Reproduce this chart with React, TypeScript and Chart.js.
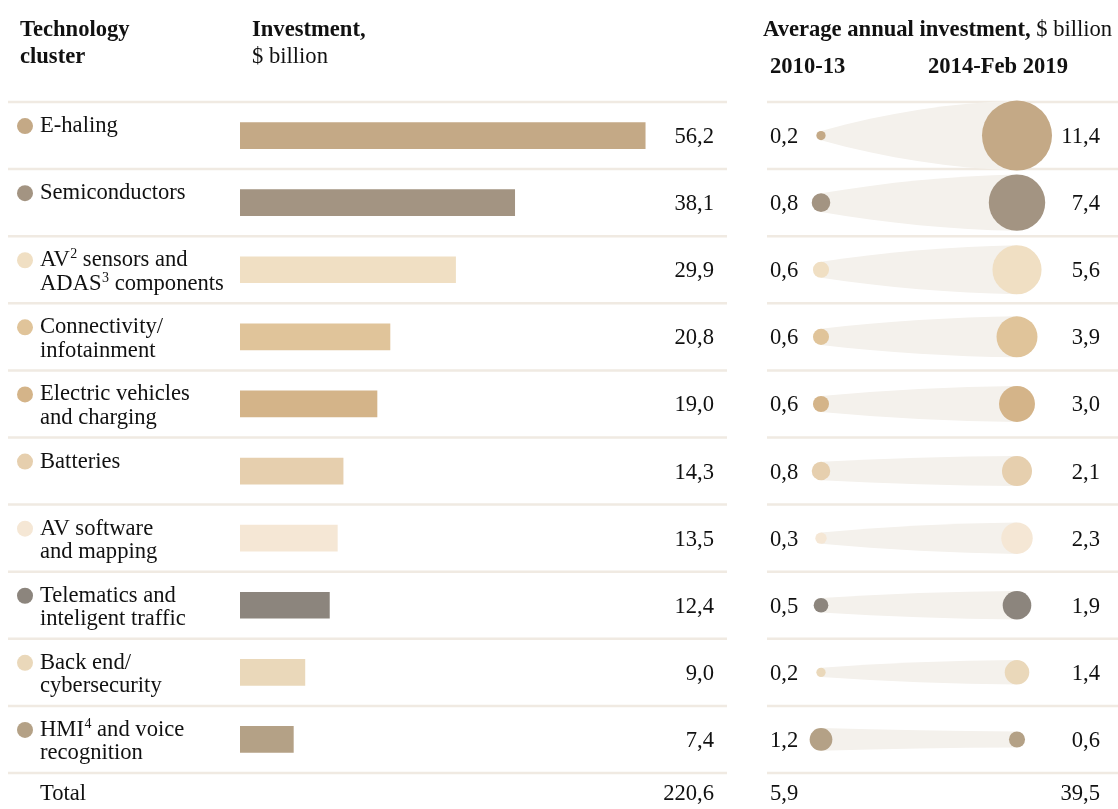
import React, { useEffect, useRef } from "react";
import { Chart, registerables } from "chart.js";

Chart.register(...registerables);

// ---------- data ----------
const categoryLines: string[][] = [
  ["E-haling"],
  ["Semiconductors"],
  ["AV{2} sensors and", "ADAS{3} components"],
  ["Connectivity/", "infotainment"],
  ["Electric vehicles", "and charging"],
  ["Batteries"],
  ["AV software", "and mapping"],
  ["Telematics and", "inteligent traffic"],
  ["Back end/", "cybersecurity"],
  ["HMI{4} and voice", "recognition"],
];
const investment = [56.2, 38.1, 29.9, 20.8, 19.0, 14.3, 13.5, 12.4, 9.0, 7.4];
const avg2010 = [0.2, 0.8, 0.6, 0.6, 0.6, 0.8, 0.3, 0.5, 0.2, 1.2];
const avg2014 = [11.4, 7.4, 5.6, 3.9, 3.0, 2.1, 2.3, 1.9, 1.4, 0.6];
const totalInvestment = 220.6;
const total2010 = 5.9;
const total2014 = 39.5;
const periodLabels = ["2010-13", "2014-Feb 2019"];
const colors = [
  "#c4a986",
  "#a39482",
  "#f0dfc3",
  "#e0c49a",
  "#d4b489",
  "#e6cfae",
  "#f5e7d5",
  "#8c857d",
  "#ead8ba",
  "#b4a186",
];

// ---------- layout ----------
const W = 1118;
const H = 809;
const FONT = '"Liberation Serif", "Times New Roman", serif';
const FS = 22.6;
const BUBBLE_K = 10.37; // px radius per sqrt(billion)
const DIVIDER = "#f0eae2";
const CONE = "#f4f1ec";

const fmt = (v: number) => v.toFixed(1).replace(".", ",");

function drawRich(ctx: CanvasRenderingContext2D, text: string, x: number, y: number, size: number, weight = "normal") {
  const parts = text.split(/(\{[^}]*\})/).filter((p) => p.length);
  let cx = x;
  ctx.textAlign = "left";
  ctx.textBaseline = "alphabetic";
  for (const p of parts) {
    if (p.startsWith("{")) {
      const t = p.slice(1, -1);
      ctx.font = `${weight} ${Math.round(size * 0.6)}px ${FONT}`;
      ctx.fillText(t, cx + 0.5, y - size * 0.36);
      cx += ctx.measureText(t).width + 0.5;
    } else {
      ctx.font = `${weight} ${size}px ${FONT}`;
      ctx.fillText(p, cx, y);
      cx += ctx.measureText(p).width;
    }
  }
  return cx;
}

const leftPlugin = {
  id: "leftText",
  beforeDraw(chart: any) {
    const { ctx, chartArea } = chart;
    const n = investment.length;
    const rowH = (chartArea.bottom - chartArea.top) / n;
    ctx.save();
    ctx.strokeStyle = DIVIDER;
    ctx.lineWidth = 2.5;
    for (let i = 0; i <= n; i++) {
      const y = chartArea.top + i * rowH;
      ctx.beginPath();
      ctx.moveTo(8, y);
      ctx.lineTo(727, y);
      ctx.moveTo(767, y);
      ctx.lineTo(W, y);
      ctx.stroke();
    }
    ctx.restore();
  },
  afterDraw(chart: any) {
    const { ctx, chartArea } = chart;
    const yScale = chart.scales.y;
    ctx.save();
    ctx.fillStyle = "#111";
    // headers
    drawRich(ctx, "Technology", 20, 36, FS, "bold");
    drawRich(ctx, "cluster", 20, 63, FS, "bold");
    drawRich(ctx, "Investment,", 252, 36, FS, "bold");
    drawRich(ctx, "$ billion", 252, 63, FS);
    const ex = drawRich(ctx, "Average annual investment,", 763, 36, FS, "bold");
    drawRich(ctx, " $ billion", ex, 36, FS);
    drawRich(ctx, periodLabels[0], 770, 73, FS, "bold");
    drawRich(ctx, periodLabels[1], 928, 73, FS, "bold");

    categoryLines.forEach((lines, i) => {
      const yc = yScale.getPixelForValue(i);
      ctx.fillStyle = colors[i];
      ctx.beginPath();
      ctx.arc(25, yc - 9.5, 8, 0, Math.PI * 2);
      ctx.fill();
      ctx.fillStyle = "#111";
      lines.forEach((ln, j) => drawRich(ctx, ln, 40, yc - 3.5 + j * 23.5, FS));
      ctx.font = `${FS}px ${FONT}`;
      ctx.textAlign = "right";
      ctx.fillText(fmt(investment[i]), 714, yc + 7.5);
    });
    const ty = chartArea.bottom + 27;
    drawRich(ctx, "Total", 40, ty, FS);
    ctx.font = `${FS}px ${FONT}`;
    ctx.textAlign = "right";
    ctx.fillText(fmt(totalInvestment), 714, ty);
    ctx.restore();
  },
};

const rightPlugin = {
  id: "cones",
  beforeDatasetsDraw(chart: any) {
    const { ctx } = chart;
    const m0 = chart.getDatasetMeta(0).data;
    const m1 = chart.getDatasetMeta(1).data;
    ctx.save();
    ctx.fillStyle = CONE;
    for (let i = 0; i < m0.length; i++) {
      const a = m0[i];
      const b = m1[i];
      const rL = chart.data.datasets[0].data[i].r;
      const rR = chart.data.datasets[1].data[i].r;
      const xL = a.x;
      const xR = b.x;
      const yc = a.y;
      const d = xR - xL;
      const dr = rR - rL;
      const h1 = rL + dr * 0.6;
      const h2 = rL + dr * 0.92;
      ctx.beginPath();
      ctx.moveTo(xL, yc - rL);
      ctx.bezierCurveTo(xL + d / 3, yc - h1, xL + (2 * d) / 3, yc - h2, xR, yc - rR);
      ctx.lineTo(xR, yc + rR);
      ctx.bezierCurveTo(xL + (2 * d) / 3, yc + h2, xL + d / 3, yc + h1, xL, yc + rL);
      ctx.closePath();
      ctx.fill();
    }
    ctx.restore();
  },
  afterDraw(chart: any) {
    const { ctx, chartArea } = chart;
    const yScale = chart.scales.y;
    ctx.save();
    ctx.fillStyle = "#111";
    ctx.font = `${FS}px ${FONT}`;
    for (let i = 0; i < avg2010.length; i++) {
      const yc = yScale.getPixelForValue(i);
      ctx.textAlign = "left";
      ctx.fillText(fmt(avg2010[i]), 770, yc + 7.5);
      ctx.textAlign = "right";
      ctx.fillText(fmt(avg2014[i]), 1100, yc + 7.5);
    }
    const ty = chartArea.bottom + 27;
    ctx.textAlign = "left";
    ctx.fillText(fmt(total2010), 770, ty);
    ctx.textAlign = "right";
    ctx.fillText(fmt(total2014), 1100, ty);
    ctx.restore();
  },
};

export default function App() {
  const barRef = useRef<HTMLCanvasElement>(null);
  const bubRef = useRef<HTMLCanvasElement>(null);

  useEffect(() => {
    const pxPerUnit = 7.21;
    const xMax = 60;
    const barLeft = 240;
    const barChart = new Chart(barRef.current!, {
      type: "bar",
      data: {
        labels: categoryLines.map((l) => l.join(" ")),
        datasets: [
          {
            data: investment,
            backgroundColor: colors,
            barThickness: 26,
            borderWidth: 0,
          },
        ],
      },
      options: {
        indexAxis: "y",
        responsive: false,
        animation: false,
        layout: {
          padding: { left: barLeft, right: W - barLeft - xMax * pxPerUnit, top: 102, bottom: 36 },
        },
        scales: {
          x: { min: 0, max: xMax, display: false },
          y: { display: false },
        },
        plugins: { legend: { display: false }, tooltip: { enabled: false } },
      },
      plugins: [leftPlugin],
    } as any);

    const R = (v: number) => BUBBLE_K * Math.sqrt(v);
    const bubChart = new Chart(bubRef.current!, {
      type: "bubble",
      data: {
        datasets: [
          {
            label: periodLabels[0],
            data: avg2010.map((v, i) => ({ x: 0, y: i, r: R(v) })),
            backgroundColor: colors,
            borderWidth: 0,
            clip: false,
          },
          {
            label: periodLabels[1],
            data: avg2014.map((v, i) => ({ x: 1, y: i, r: R(v) })),
            backgroundColor: colors,
            borderWidth: 0,
            clip: false,
          },
        ],
      },
      options: {
        responsive: false,
        animation: false,
        layout: { padding: { left: 821, right: W - 1017, top: 102, bottom: 36 } },
        scales: {
          x: { type: "linear", min: 0, max: 1, display: false },
          y: { type: "linear", min: -0.5, max: 9.5, reverse: true, display: false },
        },
        plugins: { legend: { display: false }, tooltip: { enabled: false } },
      },
      plugins: [rightPlugin],
    } as any);

    return () => {
      barChart.destroy();
      bubChart.destroy();
    };
  }, []);

  return (
    <div style={{ position: "absolute", left: 0, top: 0, width: W, height: H, background: "#fff" }}>
      <canvas ref={barRef} width={W} height={H} style={{ position: "absolute", left: 0, top: 0 }} />
      <canvas ref={bubRef} width={W} height={H} style={{ position: "absolute", left: 0, top: 0 }} />
    </div>
  );
}
